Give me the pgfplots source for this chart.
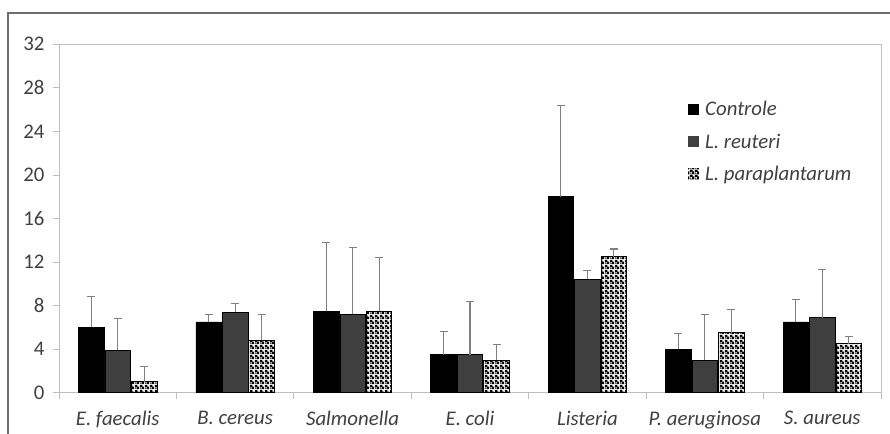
\documentclass[border=0pt]{standalone}
\usepackage{pgfplots}
\pgfplotsset{compat=1.18}
\usepackage{fontspec}
\setmainfont{Carlito}
\usetikzlibrary{patterns}
\pgfdeclarepatternformonly{mycheck}{\pgfpointorigin}{\pgfqpoint{5bp}{5bp}}{\pgfqpoint{5bp}{5bp}}{%
  \pgfpathrectangle{\pgfpointorigin}{\pgfqpoint{5bp}{5bp}}%
  \pgfpathrectangle{\pgfqpoint{0.4bp}{0.4bp}}{\pgfqpoint{1.9bp}{1.9bp}}%
  \pgfpathrectangle{\pgfqpoint{2.9bp}{2.9bp}}{\pgfqpoint{1.9bp}{1.9bp}}%
  \pgfseteorule
  \pgfusepath{fill}}
\definecolor{txt}{HTML}{404040}
\definecolor{reut}{HTML}{3F3F3F}
\definecolor{errc}{HTML}{808080}
\definecolor{axc}{HTML}{BFBFBF}
\definecolor{frame}{HTML}{6E6E6E}
\newcommand{\tlf}{\fontsize{20.8bp}{24bp}\selectfont}
\begin{document}
\begin{tikzpicture}[x=1bp,y=1bp]
\useasboundingbox (0,0) rectangle (890,434);
\draw[frame, line width=1.8bp] (8,-5) -- (8,421) -- (900,421);
\begin{axis}[
  at={(59bp,41.3bp)}, anchor=south west,
  scale only axis, width=822bp, height=348.4bp,
  ymin=0, ymax=32, ytick={0,4,...,32},
  xmin=-0.5, xmax=6.5,
  xtick={0,...,6},
  xticklabels={{\tlf\itshape E. faecalis},{\tlf\itshape B. cereus},{\tlf\itshape Salmonella},{\tlf\itshape E. coli},{\tlf\itshape Listeria},{\tlf\itshape P. aeruginosa},{\tlf\itshape S. aureus}},
  minor xtick={-0.5,0.5,...,6.5},
  major x tick style={draw=none},
  minor x tick style={draw=axc, line width=0.8bp},
  y tick style={draw=axc, line width=0.8bp},
  tick align=outside, tick pos=left,
  major tick length=6bp, minor tick length=6bp,
  axis line style={draw=axc, line width=0.8bp},
  /pgf/number format/assume math mode=true,
  yticklabel={\tlf\pgfmathprintnumber{\tick}},
  tick label style={text=txt},
  xticklabel style={yshift=-9bp},
  yticklabel style={xshift=-5bp},
  ybar=1bp, bar width=25.5bp,
  legend style={at={(rel axis cs:0.7616,0.848)}, anchor=north west, draw=none, fill=none,
    font=\tlf\itshape, text=txt, row sep=12.5bp,
    /tikz/every odd column/.append style={column sep=4bp}},
  legend cell align=left,
  legend image code/.code={\draw[#1,draw=none] (0bp,-5.5bp) rectangle (11bp,5.5bp);},
  error bars/error bar style={errc, line width=1.1bp},
  error bars/error mark options={errc, rotate=90, mark size=4bp, line width=1.1bp},
]
\addplot[fill=black, draw=black, line width=0.6bp,
  error bars/.cd, y dir=plus, y explicit] coordinates {
  (0,6.0) +- (0,2.8)
  (1,6.5) +- (0,0.7)
  (2,7.5) +- (0,6.3)
  (3,3.5) +- (0,2.1)
  (4,18.0) +- (0,8.4)
  (5,4.0) +- (0,1.4)
  (6,6.5) +- (0,2.1)
};
\addlegendentry{Controle}
\addplot[fill=reut, draw=black, line width=0.6bp,
  error bars/.cd, y dir=plus, y explicit] coordinates {
  (0,3.9) +- (0,2.9)
  (1,7.4) +- (0,0.8)
  (2,7.2) +- (0,6.1)
  (3,3.5) +- (0,4.9)
  (4,10.4) +- (0,0.8)
  (5,3.0) +- (0,4.2)
  (6,6.9) +- (0,4.4)
};
\addlegendentry{L. reuteri}
\addplot[fill=white, pattern=mycheck, pattern color=black, draw=black, line width=0.8bp,
  error bars/.cd, y dir=plus, y explicit] coordinates {
  (0,1.0) +- (0,1.4)
  (1,4.8) +- (0,2.4)
  (2,7.5) +- (0,4.9)
  (3,3.0) +- (0,1.4)
  (4,12.5) +- (0,0.7)
  (5,5.5) +- (0,2.1)
  (6,4.5) +- (0,0.7)
};
\addlegendentry{L. paraplantarum}
\end{axis}
\end{tikzpicture}
\end{document}
